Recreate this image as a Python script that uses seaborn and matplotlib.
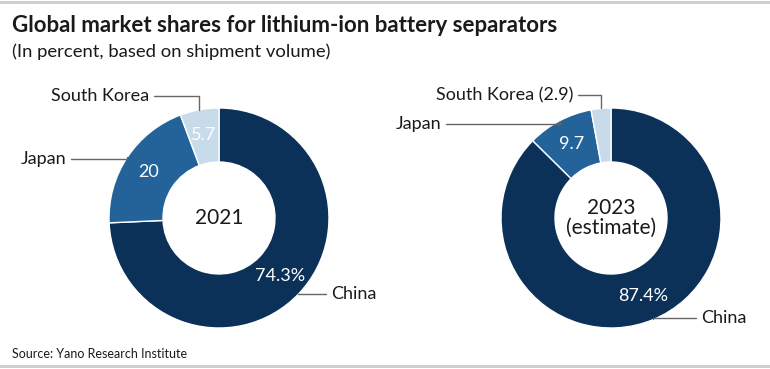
import matplotlib.pyplot as plt
import seaborn as sns
import numpy as np
from matplotlib.lines import Line2D

sns.set_theme(style="white")
plt.rcParams['font.family'] = ['Lato', 'DejaVu Sans']

# Data
countries = ["China", "Japan", "South Korea"]
shares_2021 = [74.3, 20.0, 5.7]
shares_2023 = [87.4, 9.7, 2.9]
inner_2021 = ["74.3%", "20", "5.7"]
inner_2023 = ["87.4%", "9.7", ""]
outer_2021 = ["China", "Japan", "South Korea"]
outer_2023 = ["China", "Japan", "South Korea (2.9)"]
center_labels = ["2021", "2023\n(estimate)"]

COLORS = ["#0c3158", "#24639a", "#c7dbeb"]
TEXT = "#1a1a1a"
W, H = 770, 369

fig = plt.figure(figsize=(7.7, 3.69), dpi=100)
ax = fig.add_axes([0, 0, 1, 1])
ax.set_xlim(0, W)
ax.set_ylim(0, H)
ax.set_aspect('equal')
ax.axis('off')

R_OUT, R_IN = 110, 56


def donut(values, inner, outer, center_text, cx, cy, text_pos, text_ha):
    center = (cx, H - cy)
    wedges, _ = ax.pie(values, colors=COLORS, startangle=90, counterclock=False,
                       radius=R_OUT, center=center, frame=True,
                       wedgeprops=dict(width=R_OUT - R_IN, edgecolor='white', linewidth=1))
    for w, lab_in, lab_out, tp, ha in zip(wedges, inner, outer, text_pos, text_ha):
        mid = np.deg2rad((w.theta1 + w.theta2) / 2)
        r_mid = (R_OUT + R_IN) / 2 + 1
        if lab_in:
            ax.text(center[0] + r_mid * np.cos(mid), center[1] + r_mid * np.sin(mid),
                    lab_in, color='white', fontsize=13, ha='center', va='center')
        xy = (center[0] + R_OUT * np.cos(mid), center[1] + R_OUT * np.sin(mid))
        ax.annotate(lab_out, xy=xy, xytext=(tp[0], H - tp[1]), ha=ha, va='center',
                    fontsize=13, color=TEXT,
                    arrowprops=dict(arrowstyle='-', color='#666666', lw=1,
                                    shrinkA=1, shrinkB=0,
                                    connectionstyle="angle,angleA=0,angleB=90,rad=0"))
    ax.text(center[0], center[1], center_text, ha='center', va='center',
            fontsize=15, color=TEXT, linespacing=1.0)


donut(shares_2021, inner_2021, outer_2021, center_labels[0], 219, 218,
      [(331, 294), (66, 159), (149, 96)], ['left', 'right', 'right'])
donut(shares_2023, inner_2023, outer_2023, center_labels[1], 611, 218,
      [(701, 318), (441, 124), (573, 95)], ['left', 'right', 'right'])

ax.set_xlim(0, W)
ax.set_ylim(0, H)

# Titles and source
fig.text(12 / W, 1 - 26 / H, "Global market shares for lithium-ion battery separators",
         fontsize=16, fontweight='bold', color=TEXT, ha='left', va='center')
fig.text(12 / W, 1 - 52 / H, "(In percent, based on shipment volume)",
         fontsize=13.3, color=TEXT, ha='left', va='center')
fig.text(12 / W, 1 - 354 / H, "Source: Yano Research Institute",
         fontsize=9, color=TEXT, ha='left', va='center')

# Rule lines top and bottom
fig.add_artist(Line2D([0, 1], [1 - 2 / H, 1 - 2 / H], color='#cccccc', lw=2))
fig.add_artist(Line2D([0, 1], [1 - 366 / H, 1 - 366 / H], color='#cccccc', lw=2))

fig.savefig("out.png", dpi=100)
